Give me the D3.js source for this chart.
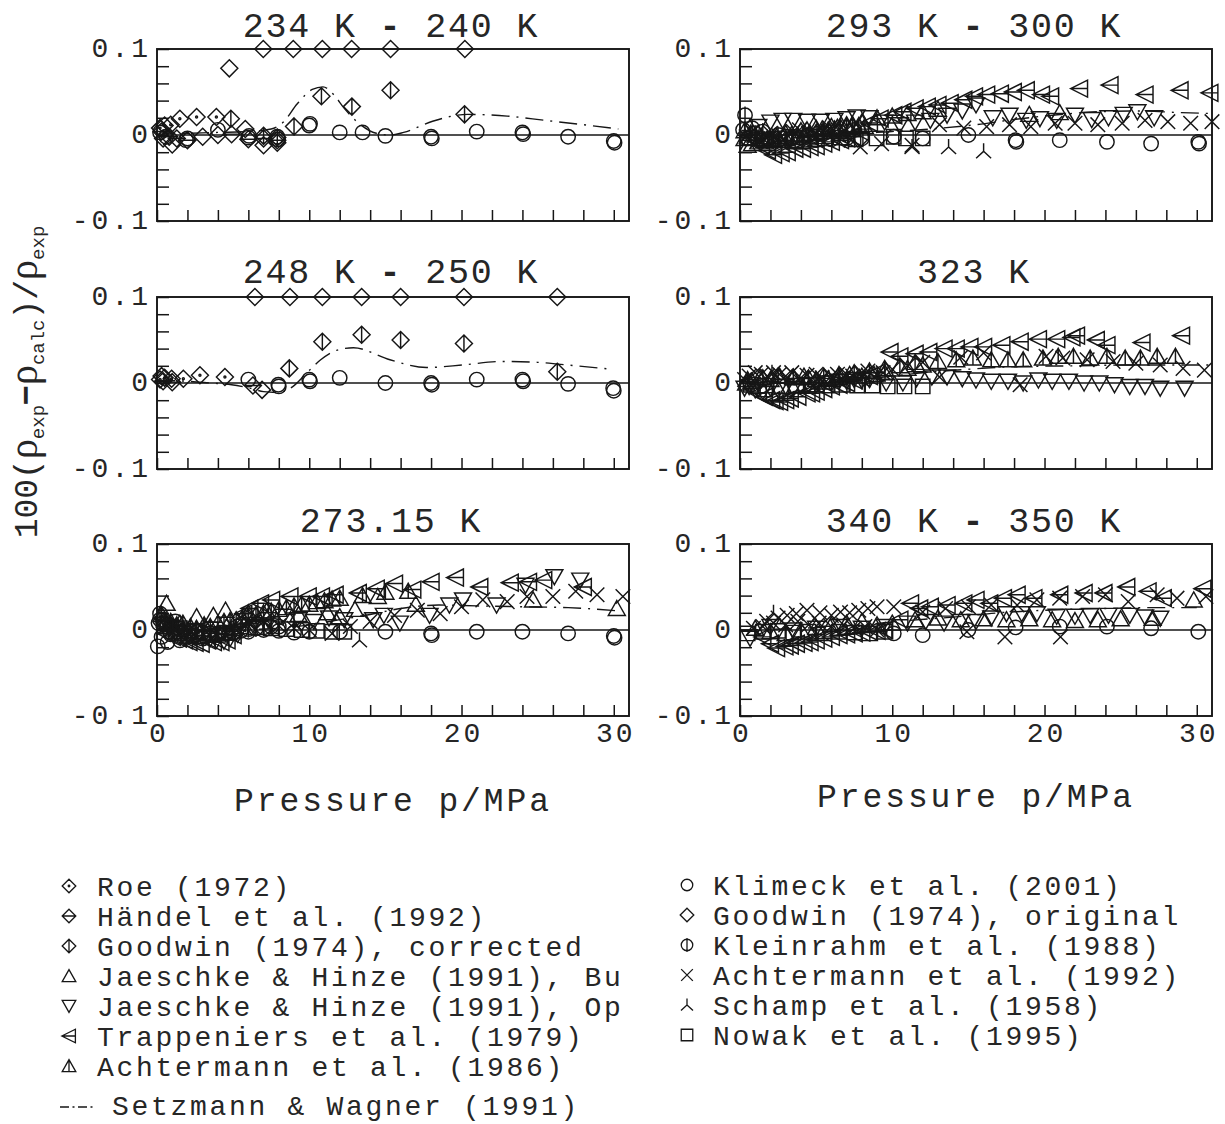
<!DOCTYPE html>
<html><head><meta charset="utf-8">
<script src="https://cdn.jsdelivr.net/npm/d3@7"></script>
<style>html,body{margin:0;padding:0;background:#fff}</style>
</head><body>
<svg id="chart" width="1225" height="1124"></svg>
<script>
// ---- axis ticks ----
const xTickValues = [0, 2, 4, 6, 8, 10, 12, 14, 16, 18, 20, 22, 24, 26, 28, 30];
const xLabelValues = [0, 10, 20, 30];
const yTickValues = [-0.1, -0.08, -0.06, -0.04, -0.02, 0, 0.02, 0.04, 0.06, 0.08, 0.1];
const yLabelValues = [-0.1, 0, 0.1];
const yLabelTexts = ["-0.1", "0", "0.1"];

// ---- 234 K - 240 K : [pressure MPa, deviation %] ----
const t234_roe = [[0.2,0.008],[0.5,0.011],[0.9,0.012],[1.5,0.019],[2.6,0.021],[3.9,0.021]];
const t234_handel = [[0.3,0.004],[0.8,-0.002],[1.3,-0.004],[2.0,-0.006],[4.9,0.001],[6.0,-0.005],[7.0,-0.004],[7.9,-0.006]];
const t234_goodwinOrig = [[0.4,-0.004],[1.0,-0.011],[3.0,-0.002],[4.0,0.0],[4.75,0.0775],[5.8,0.007],[6.98,0.1],[7.0,-0.012],[7.9,-0.009],[8.95,0.1],[10.86,0.1],[12.78,0.1],[15.34,0.1],[20.22,0.1]];
const t234_goodwinCorr = [[4.85,0.019],[7.0,-0.001],[7.9,-0.003],[9.0,0.01],[10.8,0.045],[12.8,0.033],[15.34,0.052],[20.2,0.024]];
const t234_klimeck = [[0.2,0.003],[0.6,-0.002],[1.9,-0.006],[2.0,-0.004],[4.0,0.006],[6.0,-0.003],[6.05,-0.001],[7.9,-0.002],[7.95,-0.005],[10.0,0.011],[10.05,0.013],[12.0,0.003],[13.5,0.003],[15.0,-0.001],[18.0,-0.002],[18.05,-0.004],[21.0,0.004],[24.0,0.003],[24.05,0.001],[27.0,-0.002],[30.0,-0.007],[30.05,-0.009]];
const t234_sw = [[0,0.001],[2,0.002],[4,0.003],[6,0.004],[7.5,0.007],[8.3,0.015],[9.2,0.036],[10.2,0.053],[10.9,0.056],[11.6,0.047],[12.3,0.031],[13.3,0.013],[14.4,0.002],[15.3,0.0],[16.2,0.003],[18.1,0.016],[20.4,0.024],[23,0.022],[25.5,0.017],[28,0.012],[30.3,0.007]];

// ---- 248 K - 250 K ----
const t248_roe = [[0.2,0.004],[0.5,0.006],[0.96,0.005],[1.73,0.005],[2.82,0.009],[4.46,0.007]];
const t248_handel = [[0.4,0.002],[1.0,0.001],[6.3,-0.003]];
const t248_goodwinOrig = [[0.3,0.008],[6.43,0.1],[6.9,-0.008],[8.73,0.1],[10.86,0.1],[13.44,0.1],[16.0,0.1],[20.16,0.1],[26.29,0.1]];
const t248_goodwinCorr = [[8.69,0.017],[10.86,0.048],[13.44,0.056],[16.0,0.05],[20.16,0.046],[26.29,0.013]];
const t248_klimeck = [[6.0,0.004],[7.97,-0.002],[8.0,-0.004],[10.0,0.004],[10.05,0.002],[12.0,0.006],[15.0,0.0],[18.0,0.0],[18.05,-0.002],[21.0,0.004],[24.0,0.004],[24.05,0.002],[27.0,-0.001],[29.96,-0.006],[30.0,-0.009]];
const t248_sw = [[0,0.003],[2,0.002],[3.5,0.0],[4.9,-0.002],[6.1,-0.006],[7.0,-0.010],[8.0,-0.011],[9.0,-0.003],[9.8,0.011],[10.75,0.027],[11.8,0.038],[12.9,0.041],[15.3,0.027],[17.7,0.018],[20.1,0.021],[22.6,0.025],[25.0,0.024],[27.5,0.02],[29.9,0.016]];

// ---- 273.15 K ----
const t273_klimeck = [[0.05,-0.019],[0.1,0.008],[0.2,0.019],[0.3,-0.008],[0.4,0.012],[0.6,0.004],[0.7,-0.014],[0.9,-0.005],[1.2,0.01],[1.5,-0.012],[2.0,-0.008],[2.5,-0.006],[3.0,-0.01],[3.5,-0.006],[4.0,-0.004],[5.0,-0.004],[6.0,-0.002],[7.0,0.0],[8.0,-0.001],[9.0,-0.003],[10.0,-0.002],[12.02,-0.002],[15.0,-0.002],[18.0,-0.004],[18.05,-0.006],[21.0,-0.002],[24.0,-0.002],[27.0,-0.004],[30.0,-0.007],[30.05,-0.009]];
const t273_kleinrahm = [[0.2,0.012],[0.4,0.008],[0.7,0.006],[1.0,0.004],[1.4,0.002],[1.8,0.0],[2.2,-0.001],[2.6,-0.002],[3.0,-0.003],[3.5,-0.004],[4.0,-0.005],[4.5,-0.004],[5.0,-0.003],[5.5,-0.001],[6.0,0.001],[6.5,0.002],[7.0,0.003],[7.5,0.004],[8.0,0.004]];
const t273_jhBu = [[0.63,0.031],[1.5,0.008],[2.6,0.0155],[3.7,0.017],[4.5,0.023],[6.0,0.02],[7.2,0.022],[9.3,0.018],[11.2,0.02],[12.0,0.0155],[13.0,0.024],[14.5,0.039],[17.0,0.03],[24.7,0.035],[30.2,0.025]];
const t273_jhOp = [[0.4,0.006],[0.8,0.002],[1.2,-0.002],[1.7,-0.004],[2.1,-0.006],[2.6,-0.008],[3.0,-0.009],[3.5,-0.01],[3.9,-0.012],[4.4,-0.013],[4.8,-0.01],[5.3,-0.005],[6.3,0.006],[7.3,0.012],[8.3,0.016],[9.3,0.012],[10.3,0.01],[11.3,0.014],[12.3,0.012],[14.2,0.012],[14.9,0.017],[15.95,0.008],[17.9,0.017],[19.2,0.029],[20.1,0.035],[22.3,0.029],[24.2,0.052],[26.1,0.062],[27.8,0.058]];
const t273_trapp = [[0.6,-0.004],[1.0,-0.008],[1.4,-0.01],[1.8,-0.012],[2.1,-0.014],[2.5,-0.015],[2.9,-0.016],[3.3,-0.012],[3.7,-0.014],[4.2,-0.014],[4.6,-0.012],[5.0,-0.006],[5.3,0.008],[5.7,0.019],[6.1,0.025],[6.8,0.031],[7.53,0.035],[8.73,0.039],[9.93,0.039],[10.8,0.039],[11.7,0.041],[13.22,0.043],[14.4,0.048],[15.6,0.054],[16.8,0.047],[18.0,0.056],[19.6,0.061],[21.2,0.05],[23.2,0.055],[24.4,0.056],[25.4,0.058],[28.0,0.05]];
const t273_ach86 = [[0.3,0.018],[0.5,0.012],[0.9,0.01],[1.3,0.006],[1.7,0.008],[2.2,0.004],[2.6,0.002],[3.1,0.006],[3.5,0.004],[4.0,0.008],[4.4,0.01],[4.8,0.011],[5.2,0.012],[5.6,0.014],[6.0,0.016],[6.5,0.018],[7.0,0.02],[7.5,0.022],[8.0,0.024],[8.5,0.026],[9.0,0.028],[9.5,0.03],[10.0,0.03],[10.5,0.033],[11.0,0.034],[11.5,0.036],[12.0,0.037],[13.5,0.04],[15.0,0.044],[16.5,0.045]];
const t273_ach92 = [[0.6,0.004],[1.2,0.0],[2.0,-0.003],[3.0,0.002],[4.0,-0.002],[5.0,0.004],[6.0,0.008],[7.0,0.01],[8.0,0.005],[9.0,0.002],[10.0,0.0],[11.5,-0.004],[12.7,0.004],[14.0,0.01],[15.6,0.017],[17.1,0.023],[18.6,0.019],[20.0,0.027],[21.4,0.035],[23.0,0.033],[24.3,0.039],[26.0,0.039],[27.5,0.045],[28.9,0.041],[30.6,0.039]];
const t273_nowak = [[0.5,0.004],[1.5,0.002],[2.5,-0.002],[3.5,0.001],[4.5,-0.003],[5.5,0.004],[6.5,0.003],[7.5,0.002],[8.5,0.001],[9.5,0.0],[10.5,-0.001],[11.5,-0.002],[12.3,-0.002]];
const t273_schamp = [[6.0,0.01],[9.0,0.008],[13.3,-0.012]];
const t273_sw = [[0,0.0],[4,0.0],[8,0.002],[10,0.006],[12,0.012],[14,0.018],[16,0.025],[18.5,0.029],[21,0.028],[24,0.027],[27,0.026],[30.5,0.022]];

// ---- 293 K - 300 K ----
const t293_klimeck = [[0.2,0.006],[0.5,-0.004],[1.0,0.002],[1.5,-0.006],[2.0,-0.008],[3.0,-0.002],[4.0,-0.003],[5.0,-0.006],[6.0,-0.005],[7.0,-0.004],[8.0,-0.004],[10.1,-0.002],[12.0,-0.004],[15.0,0.0],[18.1,-0.006],[18.15,-0.008],[21.0,-0.006],[24.1,-0.008],[27.0,-0.01],[30.1,-0.008],[30.15,-0.01]];
const t293_kleinrahm = [[0.33,0.023],[0.8,0.008],[1.5,0.004],[2.5,0.0],[3.5,-0.002],[4.5,0.0],[5.5,0.002],[6.5,0.004],[7.5,0.006]];
const t293_jhBu = [[0.3,-0.004],[0.5,-0.012],[0.8,-0.01],[1.2,-0.008],[1.6,-0.006],[2.0,-0.004],[2.4,-0.002],[3.0,0.002],[3.4,0.001],[4.0,0.005],[4.4,0.006],[5.0,0.008],[5.4,0.007],[6.0,0.01],[6.4,0.009],[7.0,0.012],[7.4,0.011],[8.0,0.015],[9.0,0.02],[10.0,0.022],[11.0,0.025],[12.0,0.027],[13.0,0.03],[19.0,0.024],[21.0,0.026]];
const t293_jhOp = [[1.2,0.01],[2.0,0.015],[2.8,0.017],[3.5,0.017],[4.4,0.016],[5.3,0.016],[6.2,0.017],[7.0,0.019],[7.66,0.021],[8.5,0.02],[9.5,0.015],[10.5,0.012],[11.5,0.015],[12.5,0.017],[13.6,0.023],[14.6,0.028],[15.5,0.035],[16.6,0.02],[17.7,0.023],[18.8,0.017],[19.7,0.019],[20.8,0.017],[22.0,0.023],[23.1,0.018],[24.2,0.02],[25.2,0.024],[26.1,0.027],[27.2,0.02]];
const t293_trapp = [[1.4,-0.012],[1.8,-0.018],[2.2,-0.023],[2.7,-0.021],[3.1,-0.02],[3.6,-0.016],[4.1,-0.016],[4.6,-0.014],[5.0,-0.013],[5.5,-0.01],[6.0,-0.008],[6.6,-0.006],[7.0,-0.004],[7.4,-0.002],[7.9,0.004],[8.5,0.014],[9.2,0.019],[10.1,0.023],[10.7,0.027],[11.5,0.031],[12.3,0.033],[13.0,0.035],[13.8,0.037],[14.7,0.041],[15.4,0.045],[16.2,0.047],[17.1,0.048],[17.95,0.05],[18.8,0.052],[19.8,0.047],[20.4,0.045],[22.3,0.054],[24.3,0.058],[26.6,0.047],[28.9,0.052],[30.86,0.049]];
const t293_ach86 = [[0.3,0.005],[0.7,0.002],[1.0,0.0],[1.4,-0.002],[1.8,-0.004],[2.2,-0.005],[2.6,-0.006],[3.0,-0.004],[3.4,-0.003],[3.8,-0.001],[4.2,0.0],[4.6,0.002],[5.0,0.003],[5.4,0.004],[5.8,0.006],[6.2,0.007],[6.6,0.009],[7.0,0.01],[7.4,0.012],[7.8,0.011],[8.2,0.01]];
const t293_ach92 = [[0.4,-0.002],[0.8,0.004],[1.2,-0.006],[1.5,-0.004],[2.0,0.002],[2.5,0.0],[2.9,-0.005],[3.5,0.004],[3.9,0.006],[4.5,0.002],[4.9,0.0],[5.5,0.005],[5.9,0.008],[6.5,0.0],[6.9,0.004],[7.3,-0.006],[7.9,-0.014],[9.3,-0.01],[11.3,-0.012],[13.1,0.012],[14.7,0.008],[16.2,0.0097],[17.7,0.012],[19.1,0.0097],[20.7,0.0136],[22.0,0.0136],[23.5,0.012],[25.1,0.0136],[26.6,0.017],[28.1,0.0155],[29.6,0.0136],[31.0,0.0155]];
const t293_nowak = [[0.6,-0.003],[1.6,-0.005],[2.6,-0.004],[3.6,-0.006],[4.6,-0.002],[5.6,-0.004],[6.6,-0.003],[7.6,-0.005],[8.97,-0.004],[10.1,-0.002],[10.9,-0.004],[12.0,-0.004]];
const t293_schamp = [[11.3,-0.014],[13.7,-0.014],[16.0,-0.019]];
const t293_sw = [[0,0.0],[6,0.0],[9,0.003],[12.5,0.007],[15.5,0.012],[18,0.018],[20.5,0.023],[23.5,0.027],[26,0.028],[29,0.026],[31,0.025]];

// ---- 323 K ----
const t323_trapp = [[0.8,-0.006],[1.2,-0.012],[1.6,-0.016],[2.08,-0.02],[2.3,-0.021],[2.6,-0.022],[3.0,-0.02],[3.3,-0.018],[3.8,-0.016],[4.4,-0.012],[4.7,-0.012],[5.0,-0.01],[5.5,-0.007],[6.0,-0.004],[6.5,-0.002],[7.0,0.0],[7.5,0.003],[8.0,0.006],[8.5,0.008],[9.0,0.012],[9.85,0.036],[10.5,0.031],[11.5,0.034],[12.4,0.036],[13.4,0.04],[14.2,0.04],[15.1,0.042],[16.0,0.042],[17.2,0.044],[18.4,0.048],[19.6,0.051],[20.8,0.051],[21.8,0.053],[22.1,0.055],[23.4,0.05],[24.1,0.044],[26.4,0.047],[29.0,0.055]];
const t323_ach86 = [[0.5,0.004],[1.5,0.006],[2.5,0.008],[3.5,0.007],[4.5,0.006],[5.5,0.008],[6.5,0.01],[7.5,0.012],[8.5,0.014],[9.5,0.017],[10.5,0.02],[11.5,0.024],[13.0,0.025],[14.2,0.027],[15.3,0.029],[16.5,0.027],[17.6,0.027],[18.6,0.027],[19.9,0.029],[20.9,0.031],[21.9,0.031],[23.0,0.029],[24.1,0.031],[25.3,0.029],[26.3,0.029],[27.4,0.031],[28.6,0.031]];
const t323_jhBu = [[0.4,0.0],[0.8,0.002],[1.3,0.006],[2.0,0.004],[2.6,0.008],[3.5,0.006],[4.2,0.008],[5.0,0.004],[5.8,0.005],[6.5,0.006],[7.2,0.01],[8.0,0.008],[8.8,0.01],[9.5,0.012],[11.0,0.017],[12.0,0.021]];
const t323_jhOp = [[0.3,-0.006],[0.6,-0.004],[1.0,-0.008],[1.5,-0.01],[2.0,-0.006],[2.5,-0.008],[3.0,-0.004],[3.5,-0.006],[4.0,-0.003],[4.5,-0.002],[5.0,-0.002],[5.5,0.0],[6.0,0.0],[6.5,0.002],[7.0,0.002],[7.5,0.004],[8.0,0.003],[8.5,0.004],[9.6,0.0],[10.7,0.0],[11.6,0.005],[12.6,0.007],[13.6,0.007],[14.6,0.005],[15.5,0.0035],[16.5,0.002],[17.6,0.002],[18.6,0.0],[19.6,0.0035],[20.5,0.002],[21.6,0.002],[22.6,0.0],[23.6,0.0],[24.6,-0.002],[25.6,-0.004],[26.6,-0.004],[27.6,-0.006],[29.2,-0.006]];
const t323_ach92 = [[0.3,0.004],[0.6,0.008],[1.0,0.012],[1.4,0.01],[1.8,0.008],[2.2,0.012],[2.6,0.01],[3.0,0.008],[3.4,0.012],[4.0,0.006],[4.4,0.009],[5.0,0.01],[5.4,0.006],[6.0,0.008],[6.4,0.01],[7.0,0.01],[7.4,0.008],[8.0,0.012],[8.4,0.014],[9.0,0.01],[9.4,0.012],[10.0,0.016],[11.0,0.02],[12.0,0.024],[13.1,0.007],[14.5,0.03],[16.0,0.035],[18.4,-0.002],[20.1,0.031],[21.2,0.029],[22.8,0.027],[24.5,0.025],[26.0,0.023],[27.6,0.021],[29.1,0.017],[30.5,0.015]];
const t323_nowak = [[0.7,-0.002],[1.7,-0.003],[2.7,-0.004],[3.7,-0.003],[4.7,-0.002],[5.7,-0.003],[6.7,-0.002],[7.7,-0.003],[8.7,-0.003],[9.7,-0.004],[10.8,-0.004],[12.0,-0.004]];
const t323_schamp = [[2.1,0.012]];
const t323_sw = [[0,0.0],[5,0.001],[8,0.004],[10,0.008],[12,0.012],[15,0.016],[18,0.019],[22,0.02],[26,0.021],[31,0.021]];

// ---- 340 K - 350 K ----
const t340_klimeck = [[10.1,-0.004],[12.0,-0.006],[15.0,0.0],[18.1,0.003],[21.0,0.004],[24.1,0.004],[27.0,0.002],[30.1,-0.002]];
const t340_trapp = [[1.5,-0.008],[2.0,-0.016],[2.4,-0.021],[2.95,-0.019],[3.3,-0.018],[3.7,-0.016],[4.2,-0.015],[4.6,-0.014],[5.0,-0.012],[5.5,-0.01],[6.0,-0.008],[6.5,-0.006],[7.0,-0.005],[7.5,-0.004],[8.0,-0.003],[8.5,-0.002],[9.0,-0.001],[9.5,0.0],[10.5,0.012],[11.2,0.031],[11.8,0.025],[12.5,0.027],[13.6,0.029],[14.7,0.031],[15.5,0.035],[16.4,0.031],[17.3,0.037],[18.2,0.041],[19.3,0.037],[21.0,0.041],[22.6,0.043],[23.9,0.043],[25.4,0.05],[26.8,0.045],[27.8,0.037],[30.4,0.048]];
const t340_ach92 = [[0.88,0.002],[1.75,0.01],[2.5,0.014],[3.1,0.017],[3.7,0.019],[4.4,0.023],[5.25,0.02],[6.0,0.017],[6.6,0.021],[7.2,0.02],[7.8,0.023],[8.4,0.025],[9.0,0.027],[10.1,0.027],[1.5,0.004],[2.2,0.008],[3.0,0.006],[3.8,0.01],[4.5,0.006],[5.2,0.008],[6.0,0.004],[6.8,0.006],[7.5,0.002],[8.2,0.004],[9.0,0.0],[12.0,0.021],[13.5,0.025],[14.9,-0.002],[15.0,0.027],[16.5,0.029],[17.4,-0.008],[18.2,0.029],[19.5,0.035],[21.0,0.037],[21.05,-0.008],[22.5,0.039],[24.0,0.041],[25.5,0.033],[27.4,0.041],[28.7,0.037],[30.6,0.039]];
const t340_jhOp = [[0.66,-0.0097],[2.0,0.004],[3.5,0.0],[5.0,0.002],[6.5,0.004],[8.0,0.002],[9.5,0.004],[11.0,0.008],[12.2,0.01],[13.4,0.008],[14.5,0.01],[15.5,0.01],[16.5,0.014],[17.5,0.019],[18.5,0.019],[19.5,0.019],[20.8,0.016],[22.0,0.016],[23.0,0.017],[24.2,0.017],[25.6,0.017],[26.6,0.015],[27.6,0.0136]];
const t340_jhBu = [[1.0,0.002],[2.0,-0.002],[3.0,-0.004],[4.0,0.0],[5.0,0.003],[6.0,0.006],[7.0,0.008],[8.0,0.01],[9.0,0.006],[10.0,0.008],[11.5,0.012],[13.0,0.014],[14.5,0.012],[16.0,0.013],[17.5,0.012],[19.0,0.013],[20.5,0.012],[22.0,0.011],[23.5,0.012],[25.0,0.013],[27.1,0.0136],[29.8,0.035]];
const t340_nowak = [[0.5,-0.004],[1.5,-0.002],[2.5,-0.001],[3.5,-0.003],[4.5,-0.002],[5.5,-0.004],[6.5,-0.002],[7.5,-0.003],[8.5,-0.004],[9.5,-0.002]];
const t340_schamp = [[2.2,0.02]];
const t340_sw = [[0,0.0],[4,0.002],[8,0.006],[11,0.011],[14,0.015],[17,0.02],[20,0.023],[24,0.025],[27,0.026],[30,0.026]];

// ---- legend ----
const legendLeft = [
  ["roe", "Roe (1972)"],
  ["handel", "Händel et al. (1992)"],
  ["goodwinCorr", "Goodwin (1974), corrected"],
  ["jhBu", "Jaeschke & Hinze (1991), Bu"],
  ["jhOp", "Jaeschke & Hinze (1991), Op"],
  ["trapp", "Trappeniers et al. (1979)"],
  ["ach86", "Achtermann et al. (1986)"]
];
const legendRight = [
  ["klimeck", "Klimeck et al. (2001)"],
  ["goodwinOrig", "Goodwin (1974), original"],
  ["kleinrahm", "Kleinrahm et al. (1988)"],
  ["ach92", "Achtermann et al. (1992)"],
  ["schamp", "Schamp et al. (1958)"],
  ["nowak", "Nowak et al. (1995)"]
];
const lineLegendText = "Setzmann & Wagner (1991)";

// ---- panel table ----
const panels = [
  { title: ["234 K ", "-", " 240 K"], col: 0, row: 0, line: t234_sw,
    series: [["goodwinOrig", t234_goodwinOrig], ["roe", t234_roe], ["handel", t234_handel], ["goodwinCorr", t234_goodwinCorr], ["klimeck", t234_klimeck]] },
  { title: ["248 K ", "-", " 250 K"], col: 0, row: 1, line: t248_sw,
    series: [["goodwinOrig", t248_goodwinOrig], ["roe", t248_roe], ["handel", t248_handel], ["goodwinCorr", t248_goodwinCorr], ["klimeck", t248_klimeck]] },
  { title: ["273.15 K"], col: 0, row: 2, line: t273_sw,
    series: [["klimeck", t273_klimeck], ["kleinrahm", t273_kleinrahm], ["jhBu", t273_jhBu], ["jhOp", t273_jhOp], ["trapp", t273_trapp], ["ach86", t273_ach86], ["ach92", t273_ach92], ["nowak", t273_nowak], ["schamp", t273_schamp]] },
  { title: ["293 K ", "-", " 300 K"], col: 1, row: 0, line: t293_sw,
    series: [["klimeck", t293_klimeck], ["kleinrahm", t293_kleinrahm], ["jhBu", t293_jhBu], ["jhOp", t293_jhOp], ["trapp", t293_trapp], ["ach86", t293_ach86], ["ach92", t293_ach92], ["nowak", t293_nowak], ["schamp", t293_schamp]] },
  { title: ["323 K"], col: 1, row: 1, line: t323_sw,
    series: [["trapp", t323_trapp], ["ach86", t323_ach86], ["jhBu", t323_jhBu], ["jhOp", t323_jhOp], ["ach92", t323_ach92], ["nowak", t323_nowak], ["schamp", t323_schamp]] },
  { title: ["340 K ", "-", " 350 K"], col: 1, row: 2, line: t340_sw,
    series: [["klimeck", t340_klimeck], ["trapp", t340_trapp], ["ach92", t340_ach92], ["jhOp", t340_jhOp], ["jhBu", t340_jhBu], ["nowak", t340_nowak], ["schamp", t340_schamp]] }
];

// ---- layout ----
const MONO = "'Courier New', 'Liberation Mono', monospace";
const INK = "#161616";
const TEXT = "#262626";
const colLeft = [157, 740];
const plotW = 472;
const rowZero = [135, 383, 630];
const halfH = 86;
const titleBase = [37, 283, 532];

const svg = d3.select("#chart");
svg.append("rect").attr("width", 1225).attr("height", 1124).attr("fill", "#fff");

// marker outlines, centred on (0,0); k scales the glyph
function symbolPath(type, k = 1) {
  const s = 8.5 * k;
  const circ = r => `M${-r},0a${r},${r} 0 1,0 ${2 * r},0a${r},${r} 0 1,0 ${-2 * r},0`;
  const dia = `M0,${-s}L${s},0L0,${s}L${-s},0Z`;
  const tUp = `M0,${-8 * k}L${8.5 * k},${7 * k}L${-8.5 * k},${7 * k}Z`;
  switch (type) {
    case "goodwinOrig": return dia;
    case "roe": return dia + circ(1.0 * k);
    case "handel": return dia + `M${-s},0L${s},0`;
    case "goodwinCorr": return dia + `M0,${-s}L0,${s}`;
    case "jhBu": return tUp;
    case "jhOp": return `M0,${8 * k}L${8.5 * k},${-7 * k}L${-8.5 * k},${-7 * k}Z`;
    case "trapp": return `M${-9 * k},0L${8 * k},${-8.5 * k}L${8 * k},${8.5 * k}ZM${-9 * k},0L${8 * k},0`;
    case "ach86": return tUp + `M0,${-8 * k}L0,${7 * k}`;
    case "klimeck": return circ(7.2 * k);
    case "kleinrahm": return circ(7.2 * k) + `M0,${-8.6 * k}L0,${8.6 * k}`;
    case "ach92": { const c = 7.3 * k; return `M${-c},${-c}L${c},${c}M${-c},${c}L${c},${-c}`; }
    case "schamp": return `M0,${-8 * k}L0,0L${-7.5 * k},${7 * k}M0,0L${7.5 * k},${7 * k}`;
    case "nowak": { const c = 7.2 * k; return `M${-c},${-c}H${c}V${c}H${-c}Z`; }
  }
  return "";
}

panels.forEach(pn => {
  const x0 = colLeft[pn.col];
  const zero = rowZero[pn.row];
  const x = d3.scaleLinear().domain([0, 31]).range([x0, x0 + plotW]);
  const y = d3.scaleLinear().domain([-0.1, 0.1]).range([zero + halfH, zero - halfH]);
  const g = svg.append("g");

  // title (the dash between the two temperatures is drawn heavier)
  const tt = g.append("text")
    .attr("x", x0 + plotW / 2 - 2).attr("y", titleBase[pn.row])
    .attr("text-anchor", "middle")
    .attr("font-family", MONO).attr("font-size", 35).attr("letter-spacing", 1.8)
    .attr("fill", TEXT);
  pn.title.forEach(part => {
    tt.append("tspan").attr("font-weight", part === "-" ? "bold" : null).text(part);
  });

  // y axis: inward ticks, labels at -0.1, 0, 0.1
  const yAxis = d3.axisLeft(y).tickValues(yTickValues).tickSize(-12).tickPadding(6)
    .tickFormat(v => {
      const i = yLabelValues.findIndex(l => Math.abs(l - v) < 1e-9);
      return i >= 0 ? yLabelTexts[i] : "";
    });
  const ya = g.append("g").attr("transform", `translate(${x0},0)`).call(yAxis);
  ya.select(".domain").remove();
  ya.selectAll("line").attr("stroke", INK).attr("stroke-width", 1.5);
  ya.selectAll("text").attr("font-family", MONO).attr("font-size", 28)
    .attr("letter-spacing", 3).attr("fill", TEXT).attr("dy", "0.28em");

  // x axis: inward ticks, labels only on the bottom row
  const xAxis = d3.axisBottom(x).tickValues(xTickValues).tickSize(-11).tickPadding(6)
    .tickFormat(v => (pn.row === 2 && xLabelValues.includes(v)) ? String(v) : "");
  const xa = g.append("g").attr("transform", `translate(0,${zero + halfH})`).call(xAxis);
  xa.select(".domain").remove();
  xa.selectAll("line").attr("stroke", INK).attr("stroke-width", 1.5);
  xa.selectAll("text").attr("font-family", MONO).attr("font-size", 28)
    .attr("letter-spacing", 3).attr("dx", 1.5).attr("fill", TEXT);

  // frame and zero line
  g.append("rect").attr("x", x0).attr("y", zero - halfH)
    .attr("width", plotW).attr("height", 2 * halfH)
    .attr("fill", "none").attr("stroke", INK).attr("stroke-width", 1.9);
  g.append("line").attr("x1", x0).attr("x2", x0 + plotW)
    .attr("y1", y(0)).attr("y2", y(0))
    .attr("stroke", INK).attr("stroke-width", 1.6);

  // data markers
  pn.series.forEach(([type, pts]) => {
    g.append("g").selectAll("path").data(pts).join("path")
      .attr("d", symbolPath(type))
      .attr("transform", d => `translate(${x(d[0]).toFixed(2)},${y(d[1]).toFixed(2)})`)
      .attr("fill", "none").attr("stroke", INK).attr("stroke-width", 1.45);
  });

  // Setzmann & Wagner equation
  const line = d3.line().x(d => x(d[0])).y(d => y(d[1])).curve(d3.curveMonotoneX);
  g.append("path").attr("d", line(pn.line))
    .attr("fill", "none").attr("stroke", INK).attr("stroke-width", 1.4)
    .attr("stroke-dasharray", "18 7 2 7");
});

// x axis titles
[[393, 811], [976, 807]].forEach(([cx, by]) => {
  svg.append("text").attr("x", cx).attr("y", by).attr("text-anchor", "middle")
    .attr("font-family", MONO).attr("font-size", 33).attr("letter-spacing", 2.9)
    .attr("fill", TEXT).text("Pressure p/MPa");
});

// y axis title
const yt = svg.append("text")
  .attr("transform", "translate(37,382) rotate(-90)")
  .attr("text-anchor", "middle").attr("fill", TEXT)
  .attr("font-family", MONO).attr("font-size", 33);
yt.append("tspan").text("100(");
const rho = (sub, lead) => {
  yt.append("tspan").attr("font-family", "'Liberation Serif', 'DejaVu Serif', serif")
    .attr("font-size", 40).attr("dy", lead).text("ρ");
  yt.append("tspan").attr("font-size", 19).attr("dy", 7).text(sub);
};
rho("exp", 0);
yt.append("tspan").attr("font-family", "'Liberation Sans', sans-serif").attr("font-weight", "bold")
  .attr("font-size", 34).attr("dy", -7).text("−");
rho("calc", 0);
yt.append("tspan").attr("dy", -7).text(")/");
rho("exp", 0);

// legend
const legendRows = [896, 926, 956, 986, 1016, 1046, 1076];
function legendEntry(sx, tx, by, type, label) {
  svg.append("path").attr("d", symbolPath(type, 0.8))
    .attr("transform", `translate(${sx},${by - 10})`)
    .attr("fill", "none").attr("stroke", INK).attr("stroke-width", 1.3);
  svg.append("text").attr("x", tx).attr("y", by)
    .attr("font-family", MONO).attr("font-size", 28).attr("letter-spacing", 2.7)
    .attr("fill", TEXT).text(label);
}
legendLeft.forEach(([type, label], i) => legendEntry(69, 97, legendRows[i], type, label));
legendRight.forEach(([type, label], i) => legendEntry(687, 713, legendRows[i] - 1, type, label));

// dash-dot sample for the equation of state
svg.append("line").attr("x1", 60).attr("x2", 96).attr("y1", 1107).attr("y2", 1107)
  .attr("stroke", INK).attr("stroke-width", 1.7).attr("stroke-dasharray", "9 3.5 2 3.5");
svg.append("text").attr("x", 112).attr("y", 1115)
  .attr("font-family", MONO).attr("font-size", 28).attr("letter-spacing", 2.7)
  .attr("fill", TEXT).text(lineLegendText);
</script>
</body></html>
